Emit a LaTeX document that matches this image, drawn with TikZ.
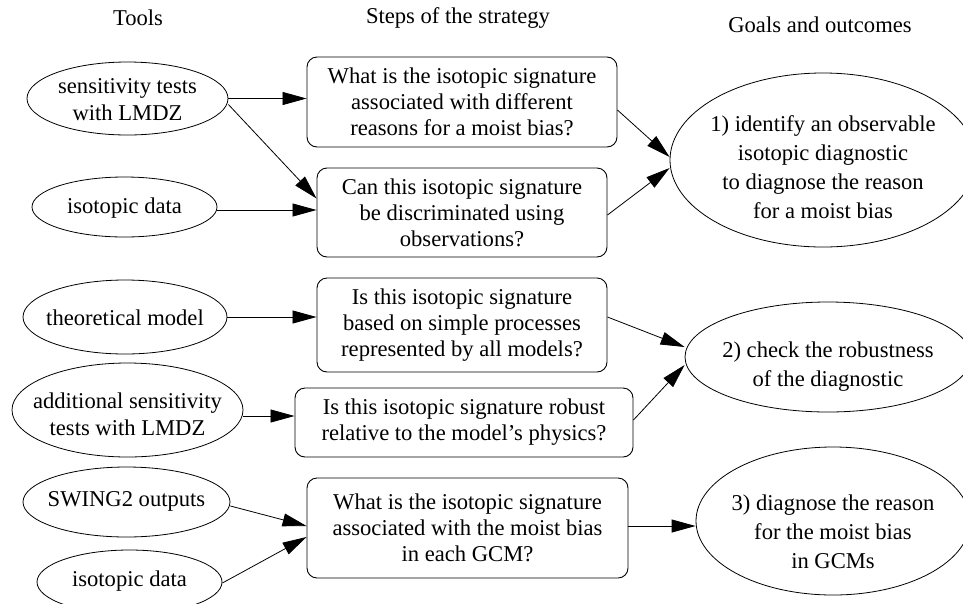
\documentclass[tikz,border=0pt]{standalone}
\usepackage{fontspec}
\setmainfont{Liberation Serif}
\usetikzlibrary{arrows.meta,shapes.geometric,calc}
\begin{document}
\begin{tikzpicture}[x=1pt,y=-1pt,
  every node/.style={font=\fontsize{22.6}{26}\selectfont},
  oval/.style={ellipse,draw,line width=0.8pt,inner sep=0pt},
  stepbox/.style={draw,rounded corners=10pt,line width=0.9pt,inner sep=0pt,align=center},
  txt/.style={align=center,inner sep=0pt},
  goaltxt/.style={align=center,inner sep=0pt,font=\fontsize{22.6}{29}\selectfont},
  tooltxt/.style={align=center,inner sep=0pt,font=\fontsize{22.6}{27}\selectfont},
  conn/.style={line width=0.8pt,-{Triangle[length=24pt,width=13pt]}},
]
\useasboundingbox (0,0) rectangle (963,603);
\clip (0,0) rectangle (963,603);

% headers
\node[txt] (h1) at (138,18) {Tools};
\node[txt] (h2) at (458,18) {Steps of the strategy};
\node[txt] (h3) at (820,25) {Goals and outcomes};

% tools
\node[oval,minimum width=201pt,minimum height=73pt] (L1) at (127.5,98.5) {};
\node[tooltxt] (L1t) at (127.5,100) {sensitivity tests\\with LMDZ};
\node[oval,minimum width=185pt,minimum height=60pt] (L2) at (124.5,207) {};
\node[tooltxt] (L2t) at (124.5,208) {isotopic data};
\node[oval,minimum width=204pt,minimum height=74pt] (L3) at (125,317) {};
\node[tooltxt] (L3t) at (125,318) {theoretical model};
\node[oval,minimum width=231pt,minimum height=94pt] (L4) at (127.5,410) {};
\node[tooltxt] (L4t) at (127.5,414) {additional sensitivity\\tests with LMDZ};
\node[oval,minimum width=207pt,minimum height=70pt] (L5) at (126.5,502) {};
\node[tooltxt] (L5t) at (126.5,501) {SWING2 outputs};
\node[oval,minimum width=185pt,minimum height=64pt] (L6) at (129.5,582) {};
\node[tooltxt] (L6t) at (129.5,581) {isotopic data};

% steps
\node[stepbox,minimum width=310pt,minimum height=90pt] (B1) at (462,102)
  {What is the isotopic signature\\associated with different\\reasons for a moist bias?};
\node[stepbox,minimum width=290pt,minimum height=89pt] (B2) at (462,212.5)
  {Can this isotopic signature\\be discriminated using\\observations?};
\node[stepbox,minimum width=290pt,minimum height=94pt] (B3) at (462,325)
  {Is this isotopic signature\\based on simple processes\\represented by all models?};
\node[stepbox,minimum width=338pt,minimum height=69pt] (B4) at (464,422.5)
  {Is this isotopic signature robust\\relative to the model's physics?};
\node[stepbox,minimum width=321pt,minimum height=100pt] (B5) at (467.5,528)
  {What is the isotopic signature\\associated with the moist bias\\in each GCM?};

% goals
\node[oval,minimum width=306pt,minimum height=174pt] (R1) at (823,160) {};
\node[goaltxt] (R1t) at (823,167) {1) identify an observable\\isotopic diagnostic\\to diagnose the reason\\for a moist bias};
\node[oval,minimum width=286pt,minimum height=110pt] (R2) at (828,357) {};
\node[goaltxt] (R2t) at (828,367) {2) check the robustness\\of the diagnostic};
\node[oval,minimum width=274pt,minimum height=148pt] (R3) at (833,521) {};
\node[goaltxt] (R3t) at (833,532) {3) diagnose the reason\\for the moist bias\\in GCMs};

% connectors
\draw[conn] (L1.east) -- (L1.east -| B1.west);
\draw[conn] ($(L1.east)+(0,6)$) -- ($(B2.west)+(0,-14)$);
\draw[conn] ($(L2.east)+(0,3)$) -- ($(B2.west)+(0,-2.5)$);
\draw[conn] ($(B1.east)+(0,8)$) -- ($(R1.west)+(0,-3)$);
\draw[conn] ($(B2.east)+(0,2.5)$) -- ($(R1.west)+(0,8)$);
\draw[conn] (L3.east) -- ($(B3.west)+(0,-8)$);
\draw[conn] ($(L4.east)+(0,6)$) -- ($(B4.west)+(0,-6.5)$);
\draw[conn] ($(B3.east)+(0,-8)$) -- ($(R2.west)+(0,-10)$);
\draw[conn] ($(B4.east)+(0,-2.5)$) -- ($(R2.west)+(0,8)$);
\draw[conn] ($(L5.east)+(0,4)$) -- ($(B5.west)+(0,-2)$);
\draw[conn] ($(L6.east)+(0,1)$) -- ($(B5.west)+(0,9)$);
\draw[conn] ($(B5.east)+(0,-2)$) -- ($(R3.west)+(0,5)$);
\end{tikzpicture}
\end{document}
